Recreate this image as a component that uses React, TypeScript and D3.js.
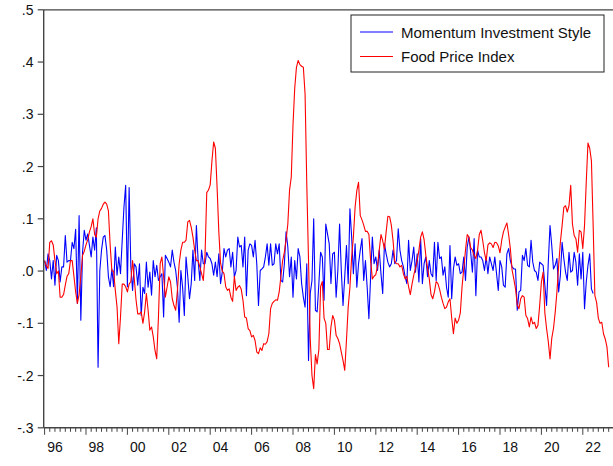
import React from "react";
import * as d3 from "d3";

// Monthly observations, first one is January 1996
const firstYear = 1996;

// Momentum investment style returns (monthly)
const momentumStyle: number[] = [
  0.020, 0.001, 0.033, 0.020, -0.015, 0.020, -0.027, 0.030, 0.020, -0.021, 0.008, 0.008,
  0.068, 0.017, 0.020, 0.020, 0.055, 0.043, 0.080, -0.062, 0.106, -0.094, 0.036, 0.078,
  0.059, 0.071, 0.049, 0.027, 0.065, 0.040, 0.083, -0.184, 0.000, 0.040, 0.065, 0.068,
  0.040, -0.011, -0.030, 0.004, -0.030, 0.046, -0.008, 0.027, -0.005, 0.059, 0.122, 0.164,
  -0.030, 0.160, 0.008, -0.037, 0.014, 0.008, -0.027, 0.014, -0.085, -0.031, -0.043, 0.017,
  -0.031, -0.002, -0.046, 0.020, -0.011, 0.011, -0.018, -0.011, -0.005, -0.088, 0.030, 0.024,
  0.017, 0.008, 0.040, 0.017, 0.001, -0.031, -0.098, 0.001, -0.031, -0.085, 0.027, -0.011,
  -0.053, -0.024, 0.040, -0.018, 0.087, 0.020, -0.018, 0.040, 0.014, 0.014, 0.036, 0.027,
  0.024, 0.014, -0.008, 0.017, -0.011, 0.033, -0.024, -0.002, 0.043, 0.027, 0.040, 0.043,
  0.008, 0.036, -0.011, 0.001, 0.065, 0.046, 0.049, 0.008, 0.065, -0.047, 0.040, 0.052,
  0.049, 0.027, 0.059, 0.014, -0.066, 0.001, 0.004, 0.008, 0.027, 0.052, 0.011, 0.052,
  0.011, 0.014, 0.052, 0.033, 0.052, -0.018, -0.021, 0.014, 0.075, 0.046, -0.011, 0.027,
  -0.050, 0.020, -0.015, 0.043, 0.027, -0.024, -0.050, -0.069, 0.014, -0.171, -0.043, -0.018,
  0.100, -0.075, -0.078, -0.024, 0.036, 0.027, -0.056, 0.090, 0.071, 0.052, -0.024, 0.033,
  0.036, -0.050, 0.001, 0.090, 0.001, -0.066, -0.011, 0.049, -0.024, 0.119, 0.065, -0.005,
  0.052, -0.031, 0.014, 0.040, 0.062, -0.018, 0.020, -0.031, -0.091, -0.011, 0.065, 0.014,
  0.027, 0.001, 0.040, -0.005, -0.043, 0.052, 0.033, 0.017, 0.008, 0.014, 0.040, 0.014,
  0.020, 0.081, 0.040, 0.020, 0.008, -0.011, -0.024, 0.059, 0.001, 0.020, 0.046, -0.002,
  0.033, -0.021, 0.062, -0.024, 0.014, 0.027, -0.011, 0.020, -0.005, -0.011, 0.055, -0.018,
  0.055, 0.024, 0.027, -0.008, 0.008, -0.031, -0.050, 0.049, -0.053, 0.004, 0.027, 0.011,
  0.014, -0.005, -0.002, 0.027, -0.018, 0.046, 0.065, 0.036, -0.002, 0.062, -0.047, 0.040,
  0.027, 0.027, 0.020, 0.001, 0.027, -0.005, 0.027, 0.014, 0.001, 0.027, -0.005, -0.037,
  0.020, 0.008, -0.027, -0.031, 0.033, 0.043, 0.020, 0.008, 0.004, 0.004, -0.075, -0.040,
  -0.037, 0.030, 0.020, 0.043, 0.011, 0.008, 0.059, 0.017, 0.001, -0.002, -0.018, 0.017,
  0.014, 0.011, -0.027, -0.066, 0.017, 0.087, 0.049, 0.004, 0.011, 0.024, -0.040, -0.008,
  0.055, 0.024, -0.002, -0.018, 0.036, -0.002, 0.001, 0.036, 0.017, -0.027, 0.033, -0.015,
  0.036, -0.072, -0.021, 0.011, 0.033, -0.034, -0.043,
];

// Food price index, year-on-year change (monthly)
const foodPriceIndex: number[] = [
  0.020, 0.010, 0.005, 0.055, 0.058, 0.050, 0.020, -0.005, 0.000, -0.050, -0.050, -0.045,
  -0.027, -0.010, -0.005, 0.020, 0.020, -0.010, -0.040, -0.062, -0.045, -0.010, 0.030, 0.038,
  0.050, 0.060, 0.075, 0.085, 0.100, 0.070, 0.065, 0.100, 0.115, 0.120, 0.128, 0.132,
  0.128, 0.115, 0.050, 0.000, 0.000, -0.037, -0.069, -0.139, -0.088, -0.025, -0.025, -0.030,
  -0.040, -0.025, -0.020, 0.020, -0.015, -0.055, -0.082, -0.082, -0.078, -0.100, -0.078, -0.043,
  -0.075, -0.113, -0.107, -0.126, -0.152, -0.168, -0.088, 0.014, 0.027, -0.011, -0.050, -0.031,
  -0.011, -0.021, -0.053, -0.066, -0.075, -0.037, 0.014, 0.040, 0.055, 0.055, 0.059, 0.094,
  0.097, 0.084, 0.065, 0.040, 0.020, 0.020, 0.008, -0.005, -0.018, 0.030, 0.150, 0.155,
  0.165, 0.210, 0.247, 0.235, 0.160, 0.075, 0.015, 0.000, -0.005, -0.030, -0.037, -0.034,
  -0.050, -0.058, -0.010, -0.037, -0.031, -0.028, -0.035, -0.056, -0.088, -0.090, -0.110, -0.114,
  -0.126, -0.123, -0.133, -0.155, -0.158, -0.147, -0.152, -0.139, -0.140, -0.135, -0.120, -0.072,
  -0.062, -0.058, -0.055, -0.056, -0.040, -0.010, 0.020, 0.036, 0.060, 0.090, 0.155, 0.180,
  0.280, 0.350, 0.390, 0.403, 0.395, 0.392, 0.390, 0.339, 0.165, 0.020, -0.130, -0.200,
  -0.225, -0.160, -0.178, -0.150, -0.030, -0.020, -0.090, -0.100, -0.150, -0.150, -0.107, -0.085,
  -0.094, -0.123, -0.129, -0.139, -0.155, -0.171, -0.190, -0.132, -0.069, -0.031, 0.027, 0.065,
  0.122, 0.154, 0.170, 0.106, 0.098, 0.088, 0.076, 0.076, 0.070, 0.020, -0.015, -0.010,
  -0.007, 0.010, 0.040, 0.070, 0.058, 0.042, 0.075, 0.105, 0.104, 0.088, 0.058, 0.018,
  0.014, 0.014, 0.008, 0.011, -0.005, -0.015, -0.010, -0.030, -0.045, -0.025, -0.008, 0.005,
  0.020, 0.040, 0.065, 0.075, 0.060, 0.030, 0.005, -0.015, -0.045, -0.053, -0.040, -0.020,
  -0.024, -0.035, -0.050, -0.062, -0.072, -0.069, -0.059, -0.053, -0.090, -0.120, -0.090, -0.100,
  -0.094, -0.080, -0.030, 0.005, 0.040, 0.070, 0.065, 0.045, 0.040, 0.030, 0.024, 0.040,
  0.070, 0.078, 0.058, 0.035, 0.020, 0.050, 0.054, 0.052, 0.045, 0.055, 0.054, 0.048,
  0.035, 0.059, 0.075, 0.084, 0.092, 0.070, 0.043, 0.002, -0.015, -0.034, -0.065, -0.072,
  -0.053, -0.047, -0.050, -0.085, -0.091, -0.107, -0.088, -0.101, -0.098, -0.110, -0.104, -0.066,
  -0.021, -0.002, -0.080, -0.110, -0.135, -0.168, -0.129, -0.110, -0.079, -0.040, 0.011, 0.055,
  0.087, 0.122, 0.125, 0.113, 0.125, 0.164, 0.090, 0.068, 0.062, 0.036, 0.078, 0.075,
  0.043, 0.087, 0.170, 0.245, 0.235, 0.211, 0.087, -0.047, -0.060, -0.090, -0.100, -0.098,
  -0.120, -0.130, -0.145, -0.184,
];

const yTickValues = [-0.3, -0.2, -0.1, 0, 0.1, 0.2, 0.3, 0.4, 0.5];
const yTickLabels = ["-.3", "-.2", "-.1", ".0", ".1", ".2", ".3", ".4", ".5"];
const xLabelYears = [1996, 1998, 2000, 2002, 2004, 2006, 2008, 2010, 2012, 2014, 2016, 2018, 2020, 2022];
const xLabelTexts = ["96", "98", "00", "02", "04", "06", "08", "10", "12", "14", "16", "18", "20", "22"];
const seriesNames = ["Momentum Investment Style", "Food Price Index"];
const seriesColors = ["#0000ff", "#ff0000"];

const FONT = "Arial, 'Liberation Sans', Helvetica, sans-serif";

export default function App() {
  const width = 613;
  const height = 466;
  const plotLeft = 43.7;
  const plotRight = 613;
  const plotTop = 9.8;
  const plotBottom = 427.8;
  const axisColor = "#444";

  const x = d3.scaleLinear().domain([1996, 2023]).range([44.6, 603.5]);
  const y = d3.scaleLinear().domain([-0.3, 0.5]).range([plotBottom, plotTop]);
  const monthToYear = (i: number) => firstYear + i / 12;

  const line = d3
    .line<number>()
    .x((_, i) => x(monthToYear(i)))
    .y((d) => y(d));

  // quarterly minor ticks, longer ticks at every labelled (even) year
  const quarterTicks = d3
    .range(0, 110)
    .map((q) => firstYear + q / 4)
    .filter((v) => x(v) <= 611.5);

  const series = [momentumStyle, foodPriceIndex];

  return (
    <svg
      width={width}
      height={height}
      viewBox={`0 0 ${width} ${height}`}
      style={{ position: "absolute", left: 0, top: 0, background: "#fff", display: "block" }}
      fontFamily={FONT}
    >
      <rect x={0} y={0} width={width} height={height} fill="#fff" />

      {/* data lines */}
      {series.map((s, k) => (
        <path
          key={seriesNames[k]}
          d={line(s) ?? ""}
          fill="none"
          stroke={seriesColors[k]}
          strokeWidth={1.1}
          strokeLinejoin="round"
        />
      ))}

      {/* frame: top, left, bottom */}
      <line x1={plotLeft} x2={plotRight} y1={plotTop} y2={plotTop} stroke={axisColor} strokeWidth={1.3} />
      <line x1={plotLeft} x2={plotLeft} y1={plotTop} y2={plotBottom} stroke={axisColor} strokeWidth={1.4} />
      <line x1={plotLeft} x2={plotRight} y1={plotBottom} y2={plotBottom} stroke={axisColor} strokeWidth={1.4} />

      {/* y axis */}
      {yTickValues.map((v, k) => (
        <g key={`y${k}`}>
          <line x1={plotLeft - 6} x2={plotLeft} y1={y(v)} y2={y(v)} stroke={axisColor} strokeWidth={1.2} />
          <text
            x={33.5}
            y={y(v) + 5}
            textAnchor="end"
            fontSize={14}
            fill="#111"
          >
            {yTickLabels[k]}
          </text>
        </g>
      ))}

      {/* x axis ticks */}
      {quarterTicks.map((v, k) => {
        const major = Math.abs(v - Math.round(v)) < 1e-6 && Math.round(v) % 2 === 0;
        return (
          <line
            key={`xt${k}`}
            x1={x(v)}
            x2={x(v)}
            y1={plotBottom}
            y2={plotBottom + (major ? 7 : 4)}
            stroke={axisColor}
            strokeWidth={1}
          />
        );
      })}
      {xLabelYears.map((yr, k) => (
        <text
          key={`xl${k}`}
          x={x(yr + 0.5)}
          y={452}
          textAnchor="middle"
          fontSize={14}
          fill="#111"
        >
          {xLabelTexts[k]}
        </text>
      ))}

      {/* legend */}
      <g>
        <rect x={351} y={15} width={253} height={57} fill="#fff" stroke="#222" strokeWidth={1} />
        {seriesNames.map((name, k) => {
          const ly = 32 + k * 24.5;
          return (
            <g key={`lg${k}`}>
              <line x1={360} x2={393} y1={ly} y2={ly} stroke={seriesColors[k]} strokeWidth={1.2} />
              <text x={401} y={ly + 5.5} fontSize={15} fill="#111">
                {name}
              </text>
            </g>
          );
        })}
      </g>
    </svg>
  );
}
